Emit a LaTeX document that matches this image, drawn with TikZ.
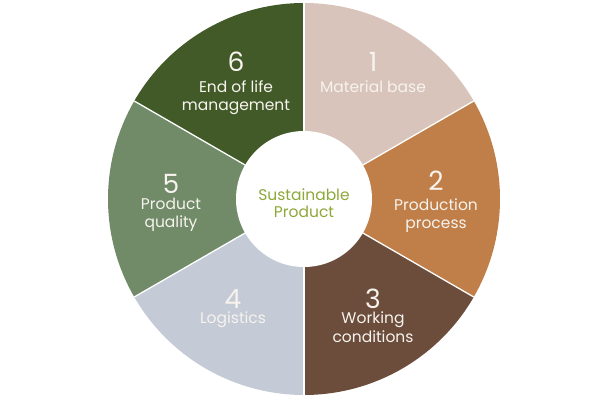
\documentclass[tikz,border=0pt]{standalone}
\usepackage{fontspec}
\setmainfont{Poppins}
\definecolor{cA}{HTML}{D8C4BB}
\definecolor{cB}{HTML}{C07E48}
\definecolor{cC}{HTML}{6C4D3C}
\definecolor{cD}{HTML}{C4CAD6}
\definecolor{cE}{HTML}{718B69}
\definecolor{cF}{HTML}{425A28}
\definecolor{txt}{HTML}{F7F3EE}
\definecolor{ctr}{HTML}{8CA83A}
\begin{document}
\begin{tikzpicture}[x=1pt,y=1pt,
  num/.style={anchor=base,text=txt,inner sep=0pt,text depth=0pt,font=\fontsize{26.5}{26.5}\selectfont},
  lab/.style={anchor=base,text=txt,inner sep=0pt,text height=11pt,text depth=3pt,font=\fontsize{15.5}{17}\selectfont},
  clab/.style={anchor=base,text=ctr,inner sep=0pt,text height=11pt,text depth=3pt,font=\fontsize{15.5}{17}\selectfont},
  sep/.style={draw=white,line width=1.3pt}]
\useasboundingbox (0,0) rectangle (608,400);
\coordinate (C) at (304,201);
\def\R{196}
\fill[cA] (C) -- ++(90:\R) arc[start angle=90,end angle=30,radius=\R] -- cycle;
\fill[cB] (C) -- ++(30:\R) arc[start angle=30,end angle=-30,radius=\R] -- cycle;
\fill[cC] (C) -- ++(-30:\R) arc[start angle=-30,end angle=-90,radius=\R] -- cycle;
\fill[cD] (C) -- ++(-90:\R) arc[start angle=-90,end angle=-150,radius=\R] -- cycle;
\fill[cE] (C) -- ++(-150:\R) arc[start angle=-150,end angle=-210,radius=\R] -- cycle;
\fill[cF] (C) -- ++(150:\R) arc[start angle=150,end angle=90,radius=\R] -- cycle;
\foreach \a in {90,30,-30,-90,-150,150} \draw[sep] (C) -- ++(\a:\R);
\fill[white] (C) circle[radius=68];
% labels
\node[num] (n1) at (373,328) {1};
\node[lab] (l1) at (373,308) {Material base};
\node[num] (n2) at (436,210) {2};
\node[lab] (l2a) at (436,190) {Production};
\node[lab] (l2b) at (436,172) {process};
\node[num] (n3) at (373,92) {3};
\node[lab] (l3a) at (373,77) {Working};
\node[lab] (l3b) at (373,58) {conditions};
\node[num] (n4) at (233,92) {4};
\node[lab] (l4) at (233,77) {Logistics};
\node[num] (n5) at (171,207) {5};
\node[lab] (l5a) at (171,191) {Product};
\node[lab] (l5b) at (171,173) {quality};
\node[num] (n6) at (236,328) {6};
\node[lab] (l6a) at (236,308) {End of life};
\node[lab] (l6b) at (236,290) {management};
\node[clab] (c1) at (304,200) {Sustainable};
\node[clab] (c2) at (304,183) {Product};
\end{tikzpicture}
\end{document}
